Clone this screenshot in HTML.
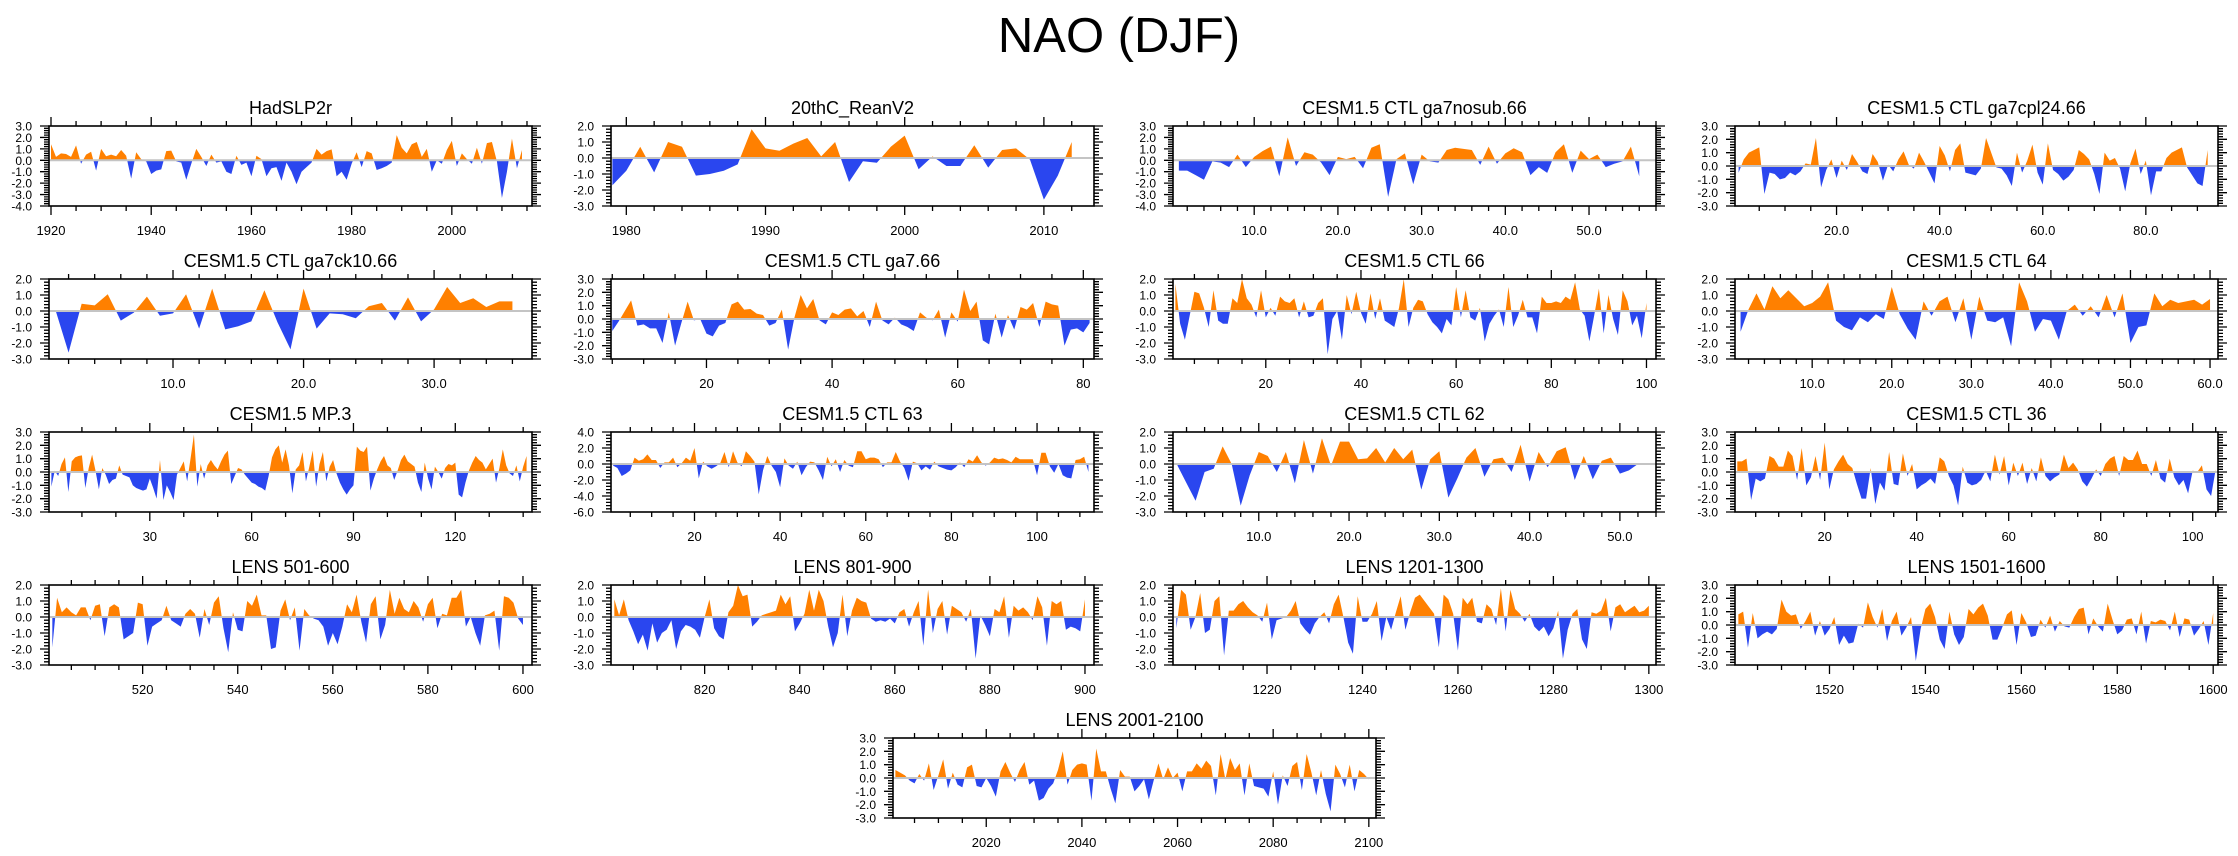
<!DOCTYPE html>
<html><head><meta charset="utf-8"><title>NAO (DJF)</title>
<style>
html,body{margin:0;padding:0;background:#fff;}
svg{display:block;font-family:"Liberation Sans",Arial,sans-serif;}
</style></head>
<body>
<svg id="fig" width="2238" height="856" viewBox="0 0 2238 856" xmlns="http://www.w3.org/2000/svg">
<rect width="2238" height="856" fill="#fff"/>
<text x="1119" y="52" font-size="49" text-anchor="middle" fill="#000">NAO (DJF)</text>
</svg>
<script>
// ---- data arrays (values per year/index, starting at the given start value) ----
const hadslpStart = 1920;
const hadslpY = [1.4,0.3,0.6,0.55,0.3,1.3,-0.3,0.5,0.75,-0.9,1.0,0.35,0.5,0.35,0.9,0.4,-1.6,0.7,0.1,-0.1,-1.2,-0.9,-0.8,0.8,0.85,-0.1,-0.2,-1.7,-0.3,1.0,0.3,-0.5,0.5,-0.2,-0.1,-1.0,-1.2,0.4,-0.4,-0.2,-1.4,0.4,0.1,-1.4,-0.7,-0.6,-1.8,-0.2,-1.0,-2.1,-1.0,-0.6,-0.2,1.0,0.5,0.8,0.95,-1.4,-1.0,-1.7,-0.3,0.7,-0.6,0.8,0.6,-0.85,-0.7,-0.5,-0.2,2.2,1.1,0.6,1.4,1.6,0.3,1.0,-1.0,0.0,-0.3,0.9,1.7,-0.5,0.6,0.1,-0.3,1.1,-0.3,1.5,1.6,-0.1,-3.3,-1.0,1.9,-0.7,0.9];
const reanStart = 1979;
const reanY = [-1.7,-0.8,0.7,-0.9,1.0,0.7,-1.1,-1.0,-0.8,-0.4,1.8,0.6,0.45,0.9,1.25,0.1,1.0,-1.5,-0.2,-0.3,0.7,1.4,-0.7,0.1,-0.5,-0.5,0.8,-0.6,0.5,0.6,-0.1,-2.6,-1.1,1.0];
const nosubStart = 1;
const nosubY = [-0.9,-0.9,-1.3,-1.7,-0.1,-0.2,-0.6,0.5,-0.6,0.3,0.8,1.2,-1.4,2.0,-0.5,0.7,0.5,-0.2,-1.3,0.3,0.1,0.3,-0.7,1.1,1.4,-3.2,0.1,0.6,-2.1,0.5,-0.1,-0.2,0.9,1.1,1.0,0.9,-0.4,1.2,-0.3,0.6,1.05,0.7,-1.3,-0.6,-1.1,0.7,1.4,-1.1,0.85,0.1,0.5,-0.6,-0.3,-0.1,1.2,-1.4];
const cpl24Start = 1;
const cpl24Y = [-0.5,0.5,1.0,1.2,1.4,-2.1,-0.5,-0.6,-1.0,-0.9,-0.5,-0.7,-0.4,0.2,0.1,2.1,-1.6,-0.3,0.5,-0.9,0.4,-0.3,0.9,0.3,-0.4,-0.6,0.9,0.3,-1.1,0.1,-0.4,0.5,1.1,0.1,-0.2,1.0,0.3,-0.5,-1.3,1.5,0.8,-0.4,1.2,1.7,-0.5,-0.6,-0.7,-0.2,2.1,1.0,-0.1,-0.2,-0.7,-1.5,1.0,-0.5,0.4,1.6,-0.5,-1.4,1.7,-0.3,-0.6,-1.1,-0.8,-0.3,1.2,0.9,0.5,-0.6,-2.1,1.0,0.4,0.6,-0.2,-1.9,0.2,1.3,-0.6,0.4,-2.2,-0.4,-0.4,0.6,1.0,1.2,1.4,-0.1,-0.7,-1.3,-1.5,1.2];
const ck10Start = 1;
const ck10Y = [0.05,-2.6,0.45,0.35,1.05,-0.6,-0.1,0.9,-0.3,-0.15,1.05,-1.1,1.4,-1.15,-0.95,-0.65,1.3,-0.7,-2.4,1.4,-1.1,-0.15,-0.2,-0.45,0.3,0.5,-0.6,0.85,-0.65,0.1,1.5,0.5,0.8,0.25,0.6,0.6];
const ga7Start = 5;
const ga7Y = [-0.9,-0.2,0.6,1.4,-0.5,-0.4,-0.7,-0.7,-1.8,0.5,-2.0,-0.3,1.3,-0.1,0.0,-1.1,-1.3,-0.5,-0.3,1.1,1.3,0.7,0.75,0.4,0.3,-0.5,-0.3,0.7,-2.3,0.1,1.8,0.8,1.5,-0.1,-0.4,0.5,0.3,0.7,0.8,0.2,0.6,-0.6,1.3,-0.1,-0.4,0.1,-0.4,-0.6,-0.9,0.5,0.1,-0.1,0.7,-1.4,0.5,-0.2,2.2,0.6,1.3,-1.6,-1.9,0.4,-1.4,0.3,-0.8,0.9,0.7,1.2,-0.6,1.3,1.1,1.0,-2.0,-0.8,-0.7,-1.0,-0.3];
const ctl66Start = 1;
const ctl66Y = [1.7,-0.8,-1.8,-0.3,1.2,1.1,0.2,-1.0,1.3,-0.6,-0.8,-0.8,0.8,0.5,2.0,0.8,0.4,-0.4,1.3,-0.4,0.2,-0.3,0.9,0.6,0.5,0.8,-0.4,0.6,-0.4,-0.3,0.5,0.8,-2.7,-0.5,0.0,-1.8,1.0,-0.2,1.2,-0.1,-0.8,1.1,-0.5,0.8,-0.6,-0.8,-1.0,0.2,2.0,-1.0,0.2,0.7,0.6,-0.2,-0.7,-1.0,-1.4,-0.5,-0.9,1.5,-0.4,1.3,-0.4,-0.6,0.2,-1.9,-0.8,-0.3,0.1,-1.0,1.5,-1.0,-0.3,0.7,-0.4,-0.4,-1.4,0.9,0.5,0.5,0.6,0.5,0.9,0.7,1.8,0.1,-0.3,-1.9,-0.3,1.4,-1.4,1.0,-0.5,-1.5,1.3,0.6,-0.9,-0.3,-1.7,0.5];
const ctl64Start = 1;
const ctl64Y = [-1.3,0.1,1.1,0.1,1.55,0.8,1.3,0.8,0.3,0.5,0.9,1.8,-0.6,-1.0,-1.2,-0.4,-0.7,-0.2,-0.5,1.5,-0.2,-1.1,-1.8,0.6,-0.3,0.6,0.9,-0.7,0.8,-1.8,0.9,-0.6,-0.7,-0.4,-2.2,1.8,0.6,-1.3,-0.5,-0.6,-1.8,0.0,0.4,-0.3,0.3,-0.4,1.0,-0.4,1.1,-2.0,-1.0,-0.9,1.1,0.3,0.7,0.5,0.6,0.7,0.4,0.75];
const mp3Start = 1;
const mp3Y = [-1.1,0.1,-0.3,0.6,1.1,-1.5,0.8,1.1,1.2,1.25,-1.2,0.3,1.3,0.1,-1.3,0.3,-0.2,-0.9,-0.6,-0.5,0.5,-0.2,-0.3,-0.4,-1.0,-1.2,-1.3,-1.4,-1.3,-0.5,-1.2,-2.0,0.9,-2.1,-1.0,-1.5,-2.1,-0.2,0.3,0.8,-0.7,1.0,2.8,-1.1,0.6,-0.5,0.5,0.9,0.5,0.2,0.8,1.3,1.6,-0.9,-0.3,0.3,0.2,-0.2,-0.5,-0.8,-0.9,-1.1,-1.2,-1.4,-0.3,1.1,1.7,2.0,0.7,1.7,0.5,-1.6,0.2,0.5,1.5,-0.7,0.4,1.6,-1.1,0.6,1.5,-0.7,0.4,0.9,-0.1,-0.8,-1.3,-1.7,-1.3,-1.0,1.9,1.6,1.5,1.9,-1.4,-0.5,0.2,0.8,1.2,0.5,0.3,-0.6,0.1,0.9,1.3,0.8,0.6,0.4,-0.8,-1.5,0.7,-0.5,-1.3,0.4,0.0,-0.5,0.3,0.6,0.5,0.7,-1.7,-1.9,-0.8,0.1,0.7,1.2,0.9,0.7,0.2,0.6,1.0,-0.8,0.3,1.7,0.5,-0.1,-0.3,0.5,-0.7,0.4,1.2];
const ctl63Start = 1;
const ctl63Y = [-0.2,-0.5,-1.5,-1.2,-0.8,0.8,0.4,0.6,1.2,0.5,0.5,-0.5,0.2,0.2,0.8,-0.4,0.1,0.8,0.4,2.0,-1.8,0.3,-0.3,-0.6,-0.3,0.1,1.5,-0.4,1.6,0.2,-0.3,1.6,1.0,0.3,-3.8,-0.8,1.0,-0.2,-1.0,-2.9,0.7,-0.2,-0.6,0.3,-1.4,-0.4,0.3,0.2,-0.8,-2.0,0.9,-0.3,0.6,-1.0,0.5,-0.2,-0.4,1.6,1.6,0.6,0.8,0.8,0.6,-0.4,0.2,0.2,1.5,0.3,-0.5,-2.1,0.3,0.1,-0.8,-0.3,-0.7,0.3,-0.3,-0.5,-0.7,-0.8,-0.4,0.2,-0.4,0.6,0.3,1.1,0.2,-0.2,0.2,0.8,0.6,0.7,0.5,0.2,0.9,0.6,0.6,0.6,0.6,-1.4,1.4,1.4,-0.3,-1.1,0.0,-1.4,-1.7,-1.8,0.5,0.6,0.9,-1.0];
const ctl62Start = 1;
const ctl62Y = [-0.1,-1.2,-2.3,-0.5,-0.3,1.1,0.0,-2.6,-0.7,0.75,0.5,-0.5,0.75,-1.2,1.5,-0.6,1.6,-0.1,1.4,1.4,0.3,0.35,1.0,0.1,1.0,0.3,0.9,-1.6,0.3,0.8,-2.1,-0.9,0.4,1.0,-0.8,0.3,0.4,-0.5,1.2,-1.1,0.75,-0.2,0.8,1.05,-1.0,0.5,-0.95,0.2,0.4,-0.6,-0.4,0.0];
const ctl36Start = 1;
const ctl36Y = [0.8,0.8,1.0,-2.1,-0.5,-0.7,-0.5,1.2,1.0,0.4,0.4,1.6,1.2,-0.6,1.8,-1.0,-0.4,1.2,-0.6,2.2,-1.3,0.2,0.8,1.3,0.6,0.3,-0.9,-2.0,-2.0,0.3,-2.4,-0.8,-1.4,1.5,-0.9,-1.0,1.4,-0.3,0.6,-1.3,-1.0,-0.8,-0.5,-0.9,1.1,0.8,-0.3,-1.0,-2.5,0.4,-0.8,-1.0,-0.9,-0.6,0.1,-0.7,1.3,-0.2,1.2,-1.0,0.7,-0.3,0.7,-0.9,0.3,-0.7,1.1,-0.3,-0.7,-0.4,-0.2,1.3,0.3,0.7,0.2,-0.7,-1.1,-0.5,0.2,-0.3,0.6,1.0,1.2,-0.3,1.2,0.9,0.9,1.6,0.6,0.6,-0.3,0.9,-0.5,-0.8,1.0,-0.4,-1.0,-0.6,-1.6,0.1,0.0,0.5,-1.3,-1.8,0.2];
const lens501Start = 501;
const lens501Y = [-1.9,1.2,0.3,0.6,0.3,0.1,0.6,0.6,-0.2,0.7,0.8,-1.2,0.6,0.8,0.6,-1.4,-1.2,-1.0,0.9,0.8,-1.8,-0.6,-0.4,-0.2,0.7,-0.2,-0.4,-0.6,0.2,0.5,0.2,-1.3,0.5,-0.5,0.9,1.3,-0.7,-2.2,0.3,-0.8,-0.9,1.0,0.7,1.4,0.1,0.1,-2.0,-1.9,0.4,1.1,-0.2,0.6,-2.1,0.5,0.1,-0.1,-0.2,-0.6,-1.8,-1.0,-1.7,-0.6,0.8,0.3,1.4,-0.3,-1.6,0.8,1.3,-1.4,-0.5,1.7,0.2,1.2,0.5,0.3,1.0,0.6,-0.3,0.8,1.2,-0.7,0.2,0.1,1.2,1.2,1.7,-0.6,0.0,-1.0,-1.8,0.1,0.2,0.4,-2.1,1.3,1.2,0.9,-0.1,-0.5];
const lens801Start = 801;
const lens801Y = [1.1,0.1,1.1,-0.2,-0.9,-1.7,-1.1,-2.1,-0.4,-1.6,-1.0,-0.8,-0.2,-2.0,-0.9,-0.5,-0.6,-0.8,-1.3,0.0,1.1,-0.7,-1.2,-1.4,0.3,0.7,2.0,1.3,1.4,-0.6,-0.3,0.1,0.2,0.3,0.4,1.4,0.8,1.3,-0.9,-0.4,0.2,1.7,0.4,1.7,1.0,-0.6,-1.9,-1.0,1.4,-1.2,0.4,1.2,1.0,0.9,-0.1,-0.3,-0.2,-0.3,-0.1,-0.4,0.3,0.5,-0.6,0.3,1.0,-1.8,1.7,-1.0,0.5,1.0,-1.1,0.7,0.5,0.3,-0.3,0.5,-2.6,0.1,-0.5,-1.2,0.5,0.3,1.3,-1.3,0.7,0.4,0.6,0.3,-0.2,1.3,0.6,-1.8,1.0,0.8,1.0,-0.8,-0.6,-0.7,-0.9,1.1];
const lens1201Start = 1201;
const lens1201Y = [-0.7,1.7,1.4,-0.8,0.0,1.5,-1.0,-0.8,1.0,1.3,-2.4,0.4,0.4,0.8,1.0,0.6,0.3,0.1,-0.3,0.9,-1.4,-0.2,-0.1,0.0,0.4,1.0,-0.4,-0.8,-1.1,-0.4,0.0,0.3,-0.4,0.8,1.4,0.0,-1.6,-2.3,1.3,-0.3,-0.3,0.2,1.0,-1.5,0.0,-0.8,0.3,1.3,-0.8,0.3,1.2,1.4,1.0,0.6,0.2,-1.9,1.4,1.1,0.2,-2.1,1.2,0.8,1.2,-0.3,-0.4,0.8,0.5,-0.5,1.8,-0.9,1.7,0.5,0.2,-0.3,0.2,-0.6,-0.9,-0.6,-1.2,-0.7,0.4,-2.6,-0.8,0.2,0.5,-1.4,-2.0,0.3,0.2,0.4,1.2,-0.9,0.6,0.8,0.3,0.5,0.7,0.3,0.4,0.7];
const lens1501Start = 1501;
const lens1501Y = [0.8,1.0,-1.7,0.9,-1.0,-0.7,-0.5,-0.7,-0.3,1.9,1.0,0.7,0.8,-0.3,0.3,1.0,-0.8,0.3,-0.8,-0.3,0.6,-1.5,-0.8,-1.4,-1.3,0.1,-0.2,1.7,0.6,-0.2,1.2,-1.2,0.3,1.0,-0.8,-0.2,0.6,-2.7,-0.3,1.2,1.6,0.6,-1.1,-1.8,1.0,-0.7,-1.5,-0.9,1.2,0.8,1.3,1.6,0.7,-1.1,-1.1,-0.2,0.8,1.1,-1.5,0.9,0.2,-0.9,-0.8,0.4,-0.2,0.7,-0.5,0.3,-0.1,-0.2,0.6,1.2,1.3,-0.7,0.5,-0.1,-0.5,1.6,0.4,-0.7,-0.4,0.4,0.5,-0.7,1.0,-1.4,0.3,0.2,0.4,0.3,-0.4,1.0,-0.9,0.5,0.4,-0.8,-0.3,0.3,-1.5,0.9];
const lens2001Start = 2001;
const lens2001Y = [0.6,0.4,0.2,-0.2,-0.4,0.3,-0.2,1.1,-0.9,0.2,1.4,-0.8,0.4,-0.5,-0.7,0.8,1.0,-0.6,-0.7,0.0,-0.6,-1.4,0.5,1.2,0.4,-0.3,0.6,1.2,-0.5,-0.2,-1.7,-1.5,-0.8,-0.4,0.6,2.0,-0.5,0.6,1.0,1.1,1.0,-1.7,2.2,0.5,0.5,-0.8,-1.9,0.6,0.1,0.1,-1.0,-0.6,-0.1,-1.6,-0.2,1.1,-0.1,0.8,0.0,0.4,-1.0,0.5,0.5,1.1,0.7,1.3,0.9,-1.3,1.8,-0.1,1.5,0.6,1.1,-1.3,1.1,-0.6,-0.7,-0.8,-1.4,0.5,-2.0,0.2,-0.6,0.9,1.2,-0.9,1.8,0.4,-1.3,0.6,-1.2,-2.5,1.0,0.3,-0.7,1.0,-1.0,0.6,0.3,-0.1];

// ---- tick label arrays ----
const hadslpTicks = [1920,1940,1960,1980,2000];
const reanTicks = [1980,1990,2000,2010];
const nosubTicks = [10,20,30,40,50];
const cpl24Ticks = [20,40,60,80];
const ck10Ticks = [10,20,30];
const ga7Ticks = [20,40,60,80];
const ctl66Ticks = [20,40,60,80,100];
const ctl64Ticks = [10,20,30,40,50,60];
const mp3Ticks = [30,60,90,120];
const ctl63Ticks = [20,40,60,80,100];
const ctl62Ticks = [10,20,30,40,50];
const ctl36Ticks = [20,40,60,80,100];
const lens501Ticks = [520,540,560,580,600];
const lens801Ticks = [820,840,860,880,900];
const lens1201Ticks = [1220,1240,1260,1280,1300];
const lens1501Ticks = [1520,1540,1560,1580,1600];
const lens2001Ticks = [2020,2040,2060,2080,2100];

const W = 483, H = 80;
const panels = [
 {t:"HadSLP2r", name:"hadslp2r", L:49, T:126, s:hadslpStart, y:hadslpY, xt:hadslpTicks, xmin:1919.6, xmax:2016, ymin:-4, ymax:3, ys:1, xm:5, dec:0},
 {t:"20thC_ReanV2", name:"20thc-reanv2", L:611, T:126, s:reanStart, y:reanY, xt:reanTicks, xmin:1978.9, xmax:2013.6, ymin:-3, ymax:2, ys:1, xm:2, dec:0},
 {t:"CESM1.5 CTL ga7nosub.66", name:"ctl-ga7nosub-66", L:1173, T:126, s:nosubStart, y:nosubY, xt:nosubTicks, xmin:0.3, xmax:58, ymin:-4, ymax:3, ys:1, xm:2, dec:1},
 {t:"CESM1.5 CTL ga7cpl24.66", name:"ctl-ga7cpl24-66", L:1735, T:126, s:cpl24Start, y:cpl24Y, xt:cpl24Ticks, xmin:0.3, xmax:94, ymin:-3, ymax:3, ys:1, xm:5, dec:1},
 {t:"CESM1.5 CTL ga7ck10.66", name:"ctl-ga7ck10-66", L:49, T:279, s:ck10Start, y:ck10Y, xt:ck10Ticks, xmin:0.5, xmax:37.5, ymin:-3, ymax:2, ys:1, xm:2, dec:1},
 {t:"CESM1.5 CTL ga7.66", name:"ctl-ga7-66", L:611, T:279, s:ga7Start, y:ga7Y, xt:ga7Ticks, xmin:4.8, xmax:81.7, ymin:-3, ymax:3, ys:1, xm:5, dec:0},
 {t:"CESM1.5 CTL 66", name:"ctl-66", L:1173, T:279, s:ctl66Start, y:ctl66Y, xt:ctl66Ticks, xmin:0.5, xmax:102, ymin:-3, ymax:2, ys:1, xm:5, dec:0},
 {t:"CESM1.5 CTL 64", name:"ctl-64", L:1735, T:279, s:ctl64Start, y:ctl64Y, xt:ctl64Ticks, xmin:0.3, xmax:61, ymin:-3, ymax:2, ys:1, xm:2, dec:1},
 {t:"CESM1.5 MP.3", name:"mp-3", L:49, T:432, s:mp3Start, y:mp3Y, xt:mp3Ticks, xmin:0.3, xmax:142.6, ymin:-3, ymax:3, ys:1, xm:10, dec:0},
 {t:"CESM1.5 CTL 63", name:"ctl-63", L:611, T:432, s:ctl63Start, y:ctl63Y, xt:ctl63Ticks, xmin:0.5, xmax:113.3, ymin:-6, ymax:4, ys:2, xm:5, dec:0},
 {t:"CESM1.5 CTL 62", name:"ctl-62", L:1173, T:432, s:ctl62Start, y:ctl62Y, xt:ctl62Ticks, xmin:0.5, xmax:54, ymin:-3, ymax:2, ys:1, xm:2, dec:1},
 {t:"CESM1.5 CTL 36", name:"ctl-36", L:1735, T:432, s:ctl36Start, y:ctl36Y, xt:ctl36Ticks, xmin:0.5, xmax:105.5, ymin:-3, ymax:3, ys:1, xm:5, dec:0},
 {t:"LENS 501-600", name:"lens-501-600", L:49, T:585, s:lens501Start, y:lens501Y, xt:lens501Ticks, xmin:500.3, xmax:601.9, ymin:-3, ymax:2, ys:1, xm:5, dec:0},
 {t:"LENS 801-900", name:"lens-801-900", L:611, T:585, s:lens801Start, y:lens801Y, xt:lens801Ticks, xmin:800.3, xmax:901.9, ymin:-3, ymax:2, ys:1, xm:5, dec:0},
 {t:"LENS 1201-1300", name:"lens-1201-1300", L:1173, T:585, s:lens1201Start, y:lens1201Y, xt:lens1201Ticks, xmin:1200.3, xmax:1301.5, ymin:-3, ymax:2, ys:1, xm:5, dec:0},
 {t:"LENS 1501-1600", name:"lens-1501-1600", L:1735, T:585, s:lens1501Start, y:lens1501Y, xt:lens1501Ticks, xmin:1500.3, xmax:1601, ymin:-3, ymax:3, ys:1, xm:5, dec:0},
 {t:"LENS 2001-2100", name:"lens-2001-2100", L:893, T:738, s:lens2001Start, y:lens2001Y, xt:lens2001Ticks, xmin:2000.5, xmax:2101.5, ymin:-3, ymax:3, ys:1, xm:5, dec:0}
];

const NS = "http://www.w3.org/2000/svg";
const fig = document.getElementById("fig");
function mk(tag, attrs, parent) {
  const e = document.createElementNS(NS, tag);
  for (const k in attrs) e.setAttribute(k, attrs[k]);
  (parent || fig).appendChild(e);
  return e;
}

panels.forEach((p, pi) => {
  const g = mk("g", {});
  
  
  const sx = v => p.L + (v - p.xmin) / (p.xmax - p.xmin) * W;
  const sy = v => p.T + (p.ymax - v) / (p.ymax - p.ymin) * H;
  const z = sy(0);

  const defs = mk("defs", {}, g);
  const cpA = mk("clipPath", {id: "ca" + pi}, defs);
  mk("rect", {x: p.L, y: p.T, width: W, height: z - p.T}, cpA);
  const cpB = mk("clipPath", {id: "cb" + pi}, defs);
  mk("rect", {x: p.L, y: z, width: W, height: p.T + H - z}, cpB);

  let d = "M" + sx(p.s).toFixed(2) + "," + z.toFixed(2);
  p.y.forEach((v, i) => { d += " L" + sx(p.s + i).toFixed(2) + "," + sy(v).toFixed(2); });
  d += " L" + sx(p.s + p.y.length - 1).toFixed(2) + "," + z.toFixed(2) + " Z";
  const pos = mk("path", {d: d, fill: "#ff8000", "clip-path": "url(#ca" + pi + ")"}, g);
  
  
  const neg = mk("path", {d: d, fill: "#2a46ef", "clip-path": "url(#cb" + pi + ")"}, g);
  
  

  const zl = mk("line", {x1: p.L, x2: p.L + W, y1: z, y2: z, stroke: "#c4c4c4", "stroke-width": 2}, g);
  
  

  const fr = mk("rect", {x: p.L, y: p.T, width: W, height: H, fill: "none", stroke: "#000", "stroke-width": 1.6}, g);
  
  

  let tk = "";
  const ymStep = p.ys / 5;
  for (let v = p.ymin; v <= p.ymax + 1e-6; v += ymStep) {
    const yy = sy(v).toFixed(2);
    const major = Math.abs(v / p.ys - Math.round(v / p.ys)) < 1e-6;
    const len = major ? 9 : 5;
    tk += "M" + p.L + "," + yy + "h-" + len + "M" + (p.L + W) + "," + yy + "h" + len;
  }
  const start = Math.ceil(p.xmin / p.xm) * p.xm;
  for (let v = start; v <= p.xmax + 1e-6; v += p.xm) {
    const xx = sx(v).toFixed(2);
    const major = p.xt.indexOf(v) >= 0 || (v % (p.xt[1] - p.xt[0]) === 0);
    const len = major ? 9 : 5;
    tk += "M" + xx + "," + (p.T + H) + "v" + len + "M" + xx + "," + p.T + "v-" + len;
  }
  const tp = mk("path", {d: tk, stroke: "#000", "stroke-width": 1.3, fill: "none"}, g);
  
  

  for (let v = p.ymin; v <= p.ymax + 1e-6; v += p.ys) {
    const t = mk("text", {x: p.L - 17, y: sy(v) + 4.5, "font-size": 12, "text-anchor": "end", fill: "#000"}, g);
    t.textContent = v.toFixed(1);
    
    
  }
  p.xt.forEach(v => {
    const t = mk("text", {x: sx(v), y: p.T + H + 29, "font-size": 13, "text-anchor": "middle", fill: "#000"}, g);
    t.textContent = v.toFixed(p.dec);
    
    
  });
  const tt = mk("text", {x: p.L + W / 2, y: p.T - 12, "font-size": 18, "text-anchor": "middle", fill: "#000"}, g);
  tt.textContent = p.t;
  
  
});
</script>
</body></html>
